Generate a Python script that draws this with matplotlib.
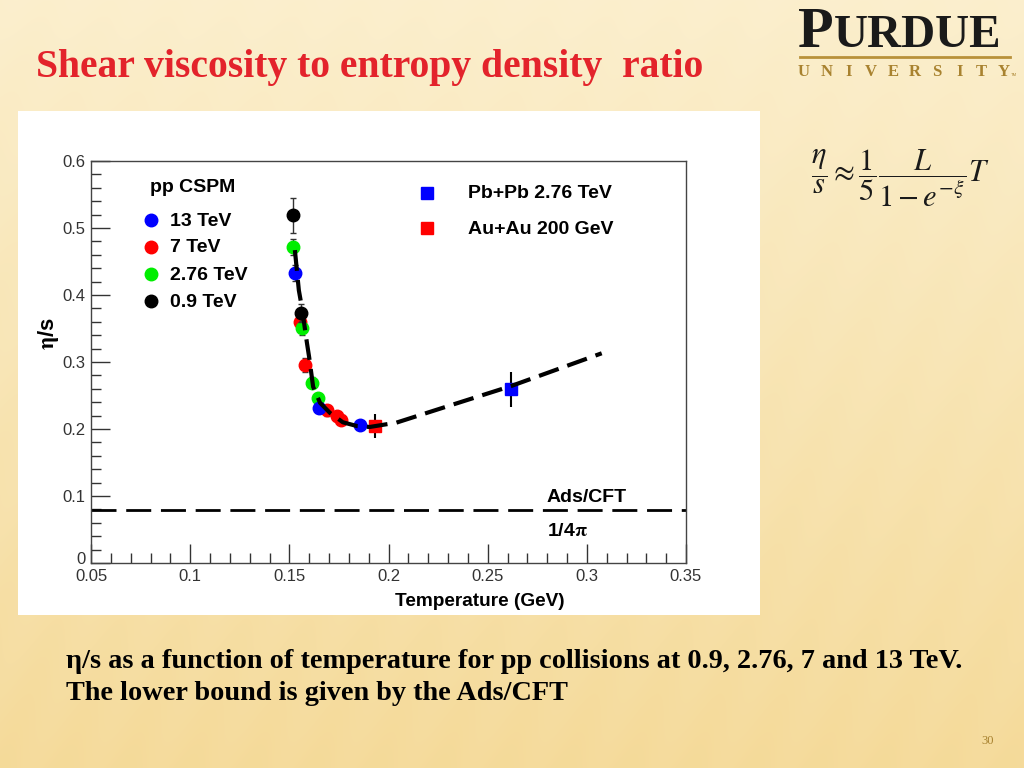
import numpy as np
import matplotlib
matplotlib.use("Agg")
import matplotlib.pyplot as plt
from matplotlib.ticker import MultipleLocator, FixedLocator

# ---------------- data ----------------
T_13 = [0.1529, 0.1648, 0.1856]
eta_13 = [0.433, 0.232, 0.206]
err_13 = [0.012, 0.008, 0.006]

T_7 = [0.1552, 0.1581, 0.1688, 0.1738, 0.1763]
eta_7 = [0.360, 0.2955, 0.228, 0.219, 0.213]
err_7 = [0.010, 0.010, 0.008, 0.007, 0.006]

T_276 = [0.1518, 0.1563, 0.1613, 0.1644]
eta_276 = [0.472, 0.351, 0.269, 0.246]
err_276 = [0.012, 0.010, 0.008, 0.008]

T_09 = [0.1518, 0.1559]
eta_09 = [0.519, 0.373]
err_09 = [0.026, 0.013]

T_pbpb = [0.2617]
eta_pbpb = [0.259]
err_pbpb = [0.026]

T_auau = [0.1932]
eta_auau = [0.2045]
err_auau = [0.018]

T_fit = [0.1528, 0.1548, 0.1563, 0.1589, 0.1600, 0.1620, 0.1655, 0.1705,
         0.1770, 0.1840, 0.1905, 0.2040, 0.2309, 0.2617, 0.3075]
eta_fit = [0.467, 0.407, 0.382, 0.328, 0.307, 0.263, 0.239, 0.224,
           0.210, 0.2045, 0.203, 0.2095, 0.235, 0.264, 0.313]

adscft = 1 / (4 * np.pi)

xticks = [0.05, 0.1, 0.15, 0.2, 0.25, 0.3, 0.35]
xticklabels = ["0.05", "0.1", "0.15", "0.2", "0.25", "0.3", "0.35"]
yticks = [0, 0.1, 0.2, 0.3, 0.4, 0.5, 0.6]
yticklabels = ["", "0.1", "0.2", "0.3", "0.4", "0.5", "0.6"]
yzero_label = "0"

# ---------------- figure ----------------
W, H = 1024, 768
fig = plt.figure(figsize=(W / 100, H / 100), dpi=100)
plt.rcParams["mathtext.fontset"] = "stix"

# slide background
bg = fig.add_axes([0, 0, 1, 1])
yy, xx = np.mgrid[0:H, 0:W]
t = yy / H
base = np.zeros((H, W, 3))
top = np.array([0.985, 0.935, 0.800])
bot = np.array([0.960, 0.855, 0.600])
for c in range(3):
    base[:, :, c] = top[c] * (1 - t) + bot[c] * t
stripe = 0.5 + 0.5 * np.sin((xx * 0.9 + yy * 0.35) / 9.0)
base = base + 0.035 * stripe[:, :, None] * (1 - base)
bg.imshow(np.clip(base, 0, 1), extent=[0, W, H, 0], aspect="auto")
bg.set_xlim(0, W)
bg.set_ylim(H, 0)
bg.axis("off")

# white panel
panel = fig.add_axes([18 / W, 1 - 615 / H, 742 / W, 504 / H])
panel.set_facecolor("white")
panel.set_xticks([])
panel.set_yticks([])
for s in panel.spines.values():
    s.set_visible(False)

# chart axes
ax = fig.add_axes([91 / W, 1 - 563 / H, 595 / W, 402 / H])
ax.set_xlim(0.05, 0.35)
ax.set_ylim(0, 0.6)
sans = "Liberation Sans"

ax.axhline(adscft, color="black", lw=2.0, dashes=(9, 3.5), zorder=2)

ms = 9
ekw = dict(ecolor="#333333", elinewidth=1.0, capsize=2.5, capthick=1.0, ls="none")
ax.errorbar(T_7, eta_7, yerr=err_7, marker="o", ms=ms, mfc="#ff0000", mec="#ff0000", zorder=3, **ekw)
ax.errorbar(T_276, eta_276, yerr=err_276, marker="o", ms=ms, mfc="#00ee00", mec="#00ee00", zorder=4, **ekw)
ax.errorbar(T_13, eta_13, yerr=err_13, marker="o", ms=ms, mfc="#0000ff", mec="#0000ff", zorder=4, **ekw)
ax.errorbar(T_09, eta_09, yerr=err_09, marker="o", ms=ms, mfc="black", mec="black", zorder=5, **ekw)
ekw2 = dict(ecolor="black", elinewidth=1.5, capsize=0, ls="none")
ax.errorbar(T_pbpb, eta_pbpb, yerr=err_pbpb, marker="s", ms=9, mfc="#0000ff", mec="#0000ff", zorder=6, **ekw2)
ax.errorbar(T_auau, eta_auau, yerr=err_auau, marker="s", ms=9, mfc="#ff0000", mec="#ff0000", zorder=6, **ekw2)

ax.plot(T_fit, eta_fit, color="black", lw=3.0, dashes=(5, 2.2), zorder=7)

# ticks ROOT-like
ax.xaxis.set_major_locator(FixedLocator(xticks))
ax.set_xticklabels(xticklabels)
ax.yaxis.set_major_locator(FixedLocator(yticks))
ax.set_yticklabels(yticklabels)
ax.xaxis.set_minor_locator(MultipleLocator(0.01))
ax.yaxis.set_minor_locator(MultipleLocator(0.02))
ax.tick_params(which="both", direction="in", top=False, right=False, color="#333333")
ax.tick_params(which="major", length=14, width=1.0, labelsize=12, labelcolor="#333333", pad=4)
ax.tick_params(which="minor", length=7, width=1.0)
for lab in ax.get_xticklabels() + ax.get_yticklabels():
    lab.set_family(sans)
for s in ax.spines.values():
    s.set_color("#444444")
    s.set_linewidth(1.0)


def px(x, y):
    return x / W, 1 - y / H


fig.text(*px(86, 559), yzero_label, fontsize=12, family=sans, color="#333333", ha="right", va="center")

ax.set_xlabel("Temperature (GeV)", fontsize=13.7, fontweight="bold", family=sans)
ax.xaxis.set_label_coords(0.654, -0.075)
ax.set_ylabel(r"$\mathbf{\eta}$/s", fontsize=16, fontweight="bold", family=sans)
ax.yaxis.set_label_coords(-0.05, 0.57)

# legends
fs_leg = 14
fig.text(*px(150, 187), "pp CSPM", fontsize=fs_leg, fontweight="bold", family=sans, va="center")
leg_items = [("13 TeV", "#0000ff"), ("7 TeV", "#ff0000"), ("2.76 TeV", "#00ee00"), ("0.9 TeV", "black")]
for i, (lab, col) in enumerate(leg_items):
    yp = 220 + 27 * i
    fig.lines.append(plt.Line2D([151 / W], [1 - yp / H], marker="o", ms=ms, mfc=col, mec=col,
                                transform=fig.transFigure, figure=fig))
    fig.text(*px(170, yp + 1), lab, fontsize=fs_leg, fontweight="bold", family=sans, va="center")

for yp, col, lab in [(193, "#0000ff", "Pb+Pb 2.76 TeV"), (228, "#ff0000", "Au+Au 200 GeV")]:
    fig.lines.append(plt.Line2D([427 / W], [1 - yp / H], marker="s", ms=8.5, mfc=col, mec=col,
                                transform=fig.transFigure, figure=fig))
    fig.text(*px(468, yp + 1), lab, fontsize=fs_leg, fontweight="bold", family=sans, va="center")

fig.text(*px(547, 498), "Ads/CFT", fontsize=fs_leg, fontweight="bold", family=sans, va="center")
fig.text(*px(547, 532), r"1/4$\mathbf{\pi}$", fontsize=fs_leg, fontweight="bold", family=sans, va="center")

# title
serif = "Liberation Serif"
fig.text(*px(36, 68), "Shear viscosity to entropy density  ratio", fontsize=28.5, fontweight="bold",
         family=serif, color="#e3232b", va="center")

# Purdue logo
fig.text(*px(798, 47), "P", fontsize=42, fontweight="bold", family=serif, color="#1a1a1a", va="baseline")
fig.text(*px(834, 47), "URDUE", fontsize=34, fontweight="bold", family=serif, color="#1a1a1a", va="baseline")
fig.lines.append(plt.Line2D([800 / W, 1010 / W], [1 - 57 / H, 1 - 57 / H], color="#b8913a", lw=2.0,
                            transform=fig.transFigure, figure=fig))
letters = "UNIVERSITY"
for i, ch in enumerate(letters):
    fig.text(*px(804 + i * 22.2, 71.5), ch, fontsize=12, fontweight="bold", family=serif,
             color="#a8822f", va="center", ha="center")
fig.text(*px(1011, 75), "TM", fontsize=3, family=sans, color="#a8822f", va="center", ha="left")

# formula
fig.text(*px(900, 178), r"$\dfrac{\eta}{s}\approx\dfrac{1}{5}\dfrac{L}{1-e^{-\xi}}T$", fontsize=22,
         va="center", ha="center", color="#1a1a1a")

# caption
fig.text(*px(66, 661), "\u03b7/s as a function of temperature for pp collisions at 0.9, 2.76, 7 and 13 TeV.",
         fontsize=20.3, fontweight="bold", family=serif, va="center")
fig.text(*px(66, 693), "The lower bound is given by the Ads/CFT", fontsize=20.3, fontweight="bold",
         family=serif, va="center")

fig.text(*px(988, 741), "30", fontsize=9, family=serif, color="#a8822f", va="center", ha="center")

fig.savefig("out.png", dpi=100)
